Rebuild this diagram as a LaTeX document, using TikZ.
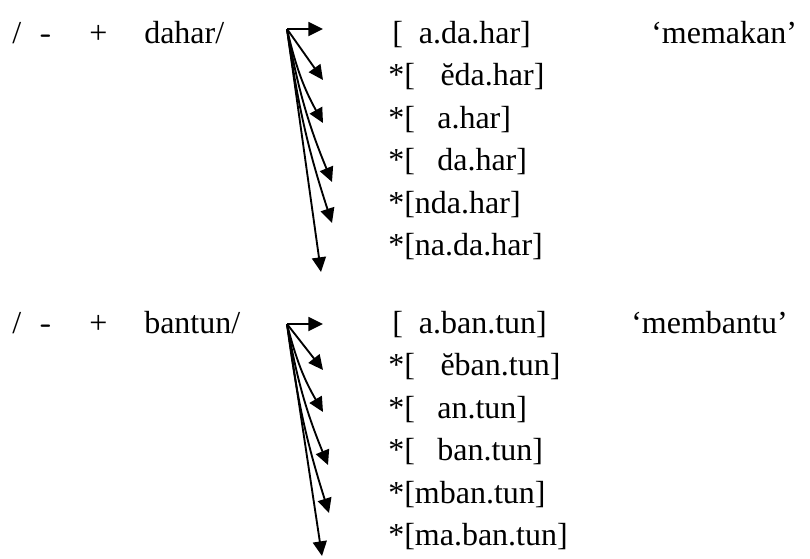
\documentclass[tikz,border=0pt]{standalone}
\usepackage{fontspec}
\setmainfont{Liberation Serif}
\usetikzlibrary{arrows.meta}

\begin{document}
\begin{tikzpicture}[
    x=0.75pt, y=0.75pt,
    txt/.style={anchor=base west, inner sep=0pt, font=\fontsize{24}{29}\selectfont},
    hyph/.style={anchor=base west, inner sep=0pt, font=\fontsize{24}{29}\sffamily\bfseries},
    arr/.style={-{Triangle[length=11pt, width=10.5pt]}, line width=1.4pt}
  ]
    \useasboundingbox (0,0) rectangle (810,-558);

    % first word
    \node[txt] (sl1) at (12,-43) {/};
    \node[hyph] (hy1) at (40,-43) {-};
    \node[txt] (pl1) at (89,-43) {+};
    \node[txt] (root1) at (144,-43) {dahar/};
    \node[txt] (f11) at (392,-43) {[\hspace{0.5em}a.da.har]};
    \node[txt] (f12) at (388,-85.5) {*[\hspace{0.8em}ĕda.har]};
    \node[txt] (f13) at (388,-128) {*[\hspace{0.7em}a.har]};
    \node[txt] (f14) at (388,-170.5) {*[\hspace{0.7em}da.har]};
    \node[txt] (f15) at (388,-213) {*[nda.har]};
    \node[txt] (f16) at (388,-255.5) {*[na.da.har]};
    \node[txt] (gl1) at (651,-43) {‘memakan’};

    \coordinate (o1) at (287,-29);
    \coordinate (t11) at (323,-29);
    \coordinate (t12) at (323,-80);
    \coordinate (t13) at (323,-123);
    \coordinate (t14) at (332,-182);
    \coordinate (t15) at (332,-223);
    \coordinate (t16) at (321,-272);
    \draw[arr] (o1) -- (t11);
    \draw[arr] (o1) -- (t12);
    \draw[arr] (o1) to[bend right=8] (t13);
    \draw[arr] (o1) to[bend right=6] (t14);
    \draw[arr] (o1) to[bend right=5] (t15);
    \draw[arr] (o1) -- (t16);

    % second word
    \node[txt] (sl2) at (12,-333) {/};
    \node[hyph] (hy2) at (40,-333) {-};
    \node[txt] (pl2) at (89,-333) {+};
    \node[txt] (root2) at (144,-333) {bantun/};
    \node[txt] (f21) at (392,-333) {[\hspace{0.5em}a.ban.tun]};
    \node[txt] (f22) at (388,-375.5) {*[\hspace{0.8em}ĕban.tun]};
    \node[txt] (f23) at (388,-418) {*[\hspace{0.7em}an.tun]};
    \node[txt] (f24) at (388,-460.5) {*[\hspace{0.7em}ban.tun]};
    \node[txt] (f25) at (388,-503) {*[mban.tun]};
    \node[txt] (f26) at (388,-545.5) {*[ma.ban.tun]};
    \node[txt] (gl2) at (631,-333) {‘membantu’};

    \coordinate (o2) at (287,-324);
    \coordinate (t21) at (323,-324);
    \coordinate (t22) at (323,-370);
    \coordinate (t23) at (323,-412);
    \coordinate (t24) at (328,-465);
    \coordinate (t25) at (329,-513);
    \coordinate (t26) at (322,-556);
    \draw[arr] (o2) -- (t21);
    \draw[arr] (o2) -- (t22);
    \draw[arr] (o2) to[bend right=8] (t23);
    \draw[arr] (o2) to[bend right=6] (t24);
    \draw[arr] (o2) to[bend right=5] (t25);
    \draw[arr] (o2) -- (t26);
\end{tikzpicture}
\end{document}
